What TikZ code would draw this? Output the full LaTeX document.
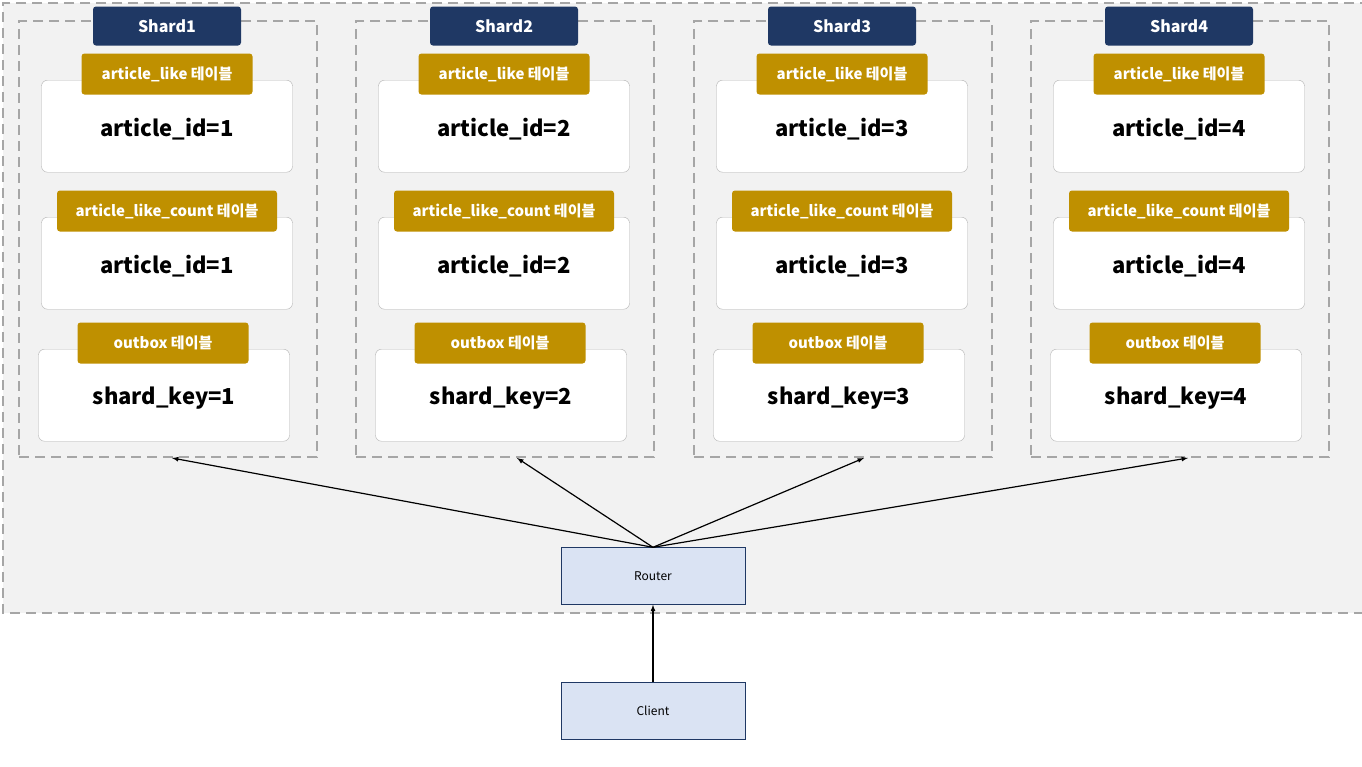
\documentclass[tikz,border=0pt]{standalone}
\usepackage{fontspec}
\setmainfont{Noto Sans CJK KR}
\usetikzlibrary{positioning}
\definecolor{navy}{HTML}{1F3864}
\definecolor{gold}{HTML}{BF9000}
\definecolor{pale}{HTML}{DAE3F3}
\definecolor{zone}{HTML}{F2F2F2}
\definecolor{dash}{HTML}{A6A6A6}
\begin{document}
\begin{tikzpicture}[x=1pt,y=-1pt,
    frame/.style={draw=dash, line width=2.2pt, dash pattern=on 10pt off 6pt},
    head/.style={rectangle, rounded corners=3pt, fill=navy, text=white, font=\bfseries\fontsize{16}{19}\selectfont,
        minimum width=148pt, minimum height=39pt},
    tag/.style={rectangle, rounded corners=3pt, fill=gold, text=white, font=\bfseries\fontsize{15}{18}\selectfont,
        minimum height=41pt, inner sep=2pt},
    table/.style={rectangle, rounded corners=6pt, draw=gray!60, fill=white, minimum width=251pt,
        minimum height=92pt, font=\bfseries\fontsize{22}{26}\selectfont},
    svc/.style={rectangle, draw=navy, fill=pale, minimum width=184pt, minimum height=57pt,
        font=\fontsize{12}{14}\selectfont}
]
\useasboundingbox (0,0) rectangle (1362,766);
\fill[zone] (3,3) rectangle (1370,613);
\draw[frame] (1370,3) -- (3,3) -- (3,613) -- (1370,613);

\foreach \i/\dx/\tx in {1/0/172, 2/337/517, 3/675/864, 4/1012/1188} {
    \node[frame, rectangle, minimum width=298pt, minimum height=436pt] (frame\i) at (168+\dx,239) {};
    \node[head] (shard\i) at (167+\dx,26) {Shard\i};
    \node[table, text height=24pt, anchor=north] (like\i) at (167+\dx,80) {article\_id=\i};
    \node[tag, minimum width=171pt] (liketag\i) at (167+\dx,74) {article\_like 테이블};
    \node[table, text height=24pt, anchor=north] (count\i) at (167+\dx,217) {article\_id=\i};
    \node[tag, minimum width=220pt] (counttag\i) at (167+\dx,211) {article\_like\_count 테이블};
    \node[table, text height=24pt, anchor=north] (outbox\i) at (164+\dx,349) {shard\_key=\i};
    \node[tag, minimum width=171pt] (outtag\i) at (163+\dx,343) {outbox 테이블};
    \coordinate (tip\i) at (\tx,458);
}

\node[svc] (router) at (653,576) {Router};
\node[svc] (client) at (653,711) {Client};

\foreach \i in {1,...,4}
    \draw[-latex, line width=1.2pt] (router.north) -- (tip\i);
\draw[-latex, line width=1.2pt] (client) -- (router);
\end{tikzpicture}
\end{document}
